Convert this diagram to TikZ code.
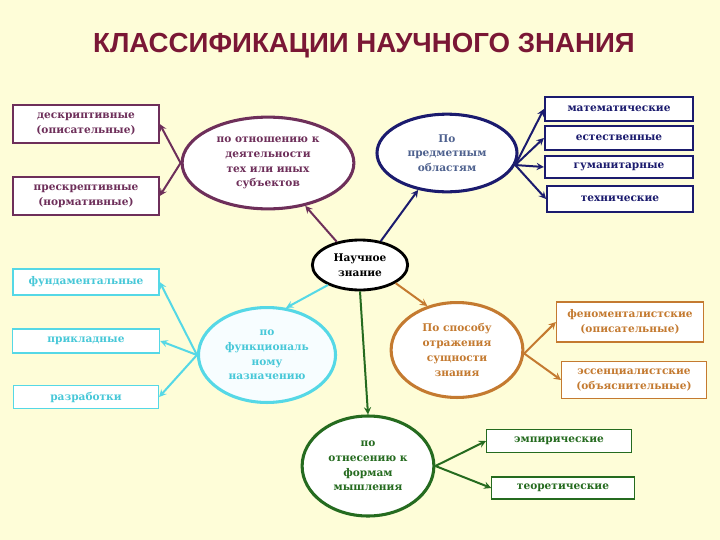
\documentclass[tikz,border=0pt]{standalone}
\usepackage{fontspec}
\setmainfont{DejaVu Serif}
\newfontfamily\titlefont{Liberation Sans}
\usetikzlibrary{shapes.geometric, arrows}

\definecolor{bgyellow}{HTML}{FEFDD8}
\definecolor{titlered}{HTML}{7A1735}
\definecolor{relcol}{HTML}{6E2F5A}
\definecolor{subjcol}{HTML}{1B1B6E}
\definecolor{subjtext}{HTML}{4F628F}
\definecolor{funccol}{HTML}{55D8E6}
\definecolor{functext}{HTML}{48C8D8}
\definecolor{reflcol}{HTML}{C47A30}
\definecolor{formcol}{HTML}{256B1F}

\begin{document}
\begin{tikzpicture}[
    x=0.85pt, y=-0.85pt,
    txt/.style={font=\bfseries\fontsize{9}{12.5}\selectfont, align=center},
    hub/.style={ellipse, draw=black, line width=2.4pt, fill=white, inner sep=0pt, txt},
    branch/.style={ellipse, line width=2.6pt, fill=white, inner sep=0pt, txt},
    leaf/.style={rectangle, line width=1pt, fill=white, inner sep=0pt, txt},
    arrow/.style={line width=1.7pt,->,>=stealth}
]

% Background
\fill[bgyellow] (0,0) rectangle (720,540);

% Title
\node[text=titlered, font=\titlefont\bfseries\fontsize{23.5}{27}\selectfont] (title) at (364,46) {КЛАССИФИКАЦИИ НАУЧНОГО ЗНАНИЯ};

% Scientific knowledge
\node[hub, minimum width=81pt, minimum height=42.5pt] (sci) at (360,265) {Научное\\знание};

% By relation to activity
\node[branch, draw=relcol, text=relcol, minimum width=146pt, minimum height=78pt] (rel) at (268,163) {по отношению к\\деятельности\\тех или иных\\субъектов};
\node[leaf, draw=relcol, text=relcol, line width=1.3pt, minimum width=124pt, minimum height=32pt] (descr) at (86,124) {дескриптивные\\(описательные)};
\node[leaf, draw=relcol, text=relcol, line width=1.3pt, minimum width=124pt, minimum height=32pt] (prescr) at (86,196) {прескрептивные\\(нормативные)};

% By subject areas
\node[branch, draw=subjcol, text=subjtext, minimum width=119pt, minimum height=66pt] (subj) at (447,153) {По\\предметным\\областям};
\node[leaf, draw=subjcol, text=subjcol, line width=1.7pt, minimum width=126pt, minimum height=20.4pt] (math) at (619,109) {математические};
\node[leaf, draw=subjcol, text=subjcol, line width=1.7pt, minimum width=126pt, minimum height=20.4pt] (natur) at (619,138) {естественные};
\node[leaf, draw=subjcol, text=subjcol, line width=1.7pt, minimum width=126pt, minimum height=18.7pt] (human) at (619,167) {гуманитарные};
\node[leaf, draw=subjcol, text=subjcol, line width=1.7pt, minimum width=124pt, minimum height=22pt] (tech) at (620,199) {технические};

% By function
\node[branch, draw=funccol, text=functext, fill=cyan!3, minimum width=116.5pt, minimum height=80.7pt] (func) at (267,355) {по\\функциональ\\ному\\назначению};
\node[leaf, draw=funccol, text=functext, line width=1.3pt, minimum width=124pt, minimum height=22pt] (fund) at (86,282) {фундаментальные};
\node[leaf, draw=funccol, text=functext, line width=1.3pt, minimum width=125pt, minimum height=20.4pt] (appl) at (86,341) {прикладные};
\node[leaf, draw=funccol, text=functext, line width=1.3pt, minimum width=123pt, minimum height=19.6pt] (devel) at (86,397) {разработки};

% By way of reflecting essence
\node[branch, draw=reflcol, text=reflcol, minimum width=112pt, minimum height=80.7pt] (refl) at (457,350) {По способу\\отражения\\сущности\\знания};
\node[leaf, draw=reflcol, text=reflcol, minimum width=125pt, minimum height=34pt] (phen) at (630,322) {феноменталистские\\(описательные)};
\node[leaf, draw=reflcol, text=reflcol, minimum width=123pt, minimum height=31.5pt] (ess) at (634,380) {эссенциалистские\\(объяснительные)};

% By forms of thinking
\node[branch, draw=formcol, text=formcol, minimum width=112pt, minimum height=85pt] (form) at (368,466) {по\\отнесению к\\формам\\мышления};
\node[leaf, draw=formcol, text=formcol, minimum width=123pt, minimum height=19.6pt] (emp) at (559,441) {эмпирические};
\node[leaf, draw=formcol, text=formcol, minimum width=121pt, minimum height=18.7pt] (theor) at (563,488) {теоретические};

% Arrows from the centre
\draw[arrow, relcol] (sci.135) -- (rel.-49);
\draw[arrow, subjcol] (sci.49) -- (subj.-128);
\draw[arrow, funccol] (sci.-148) -- (func.68);
\draw[arrow, reflcol] (sci.-27) -- (refl.124);
\draw[arrow, formcol] (sci.south) -- (form.north);

% Arrows to the leaves
\draw[arrow, relcol] (rel.west) -- (descr.east);
\draw[arrow, relcol] (rel.west) -- (prescr.east);
\draw[arrow, subjcol] (subj.-10) -- (math.west);
\draw[arrow, subjcol] (subj.-10) -- (natur.west);
\draw[arrow, subjcol] (subj.-10) -- (human.west);
\draw[arrow, subjcol] (subj.-10) -- (tech.west);
\draw[arrow, funccol] (func.west) -- (fund.east);
\draw[arrow, funccol] (func.west) -- (appl.east);
\draw[arrow, funccol] (func.west) -- (devel.east);
\draw[arrow, reflcol] (refl.-3) -- (phen.west);
\draw[arrow, reflcol] (refl.-3) -- (ess.west);
\draw[arrow, formcol] (form.east) -- (emp.west);
\draw[arrow, formcol] (form.east) -- (theor.west);

\end{tikzpicture}
\end{document}
